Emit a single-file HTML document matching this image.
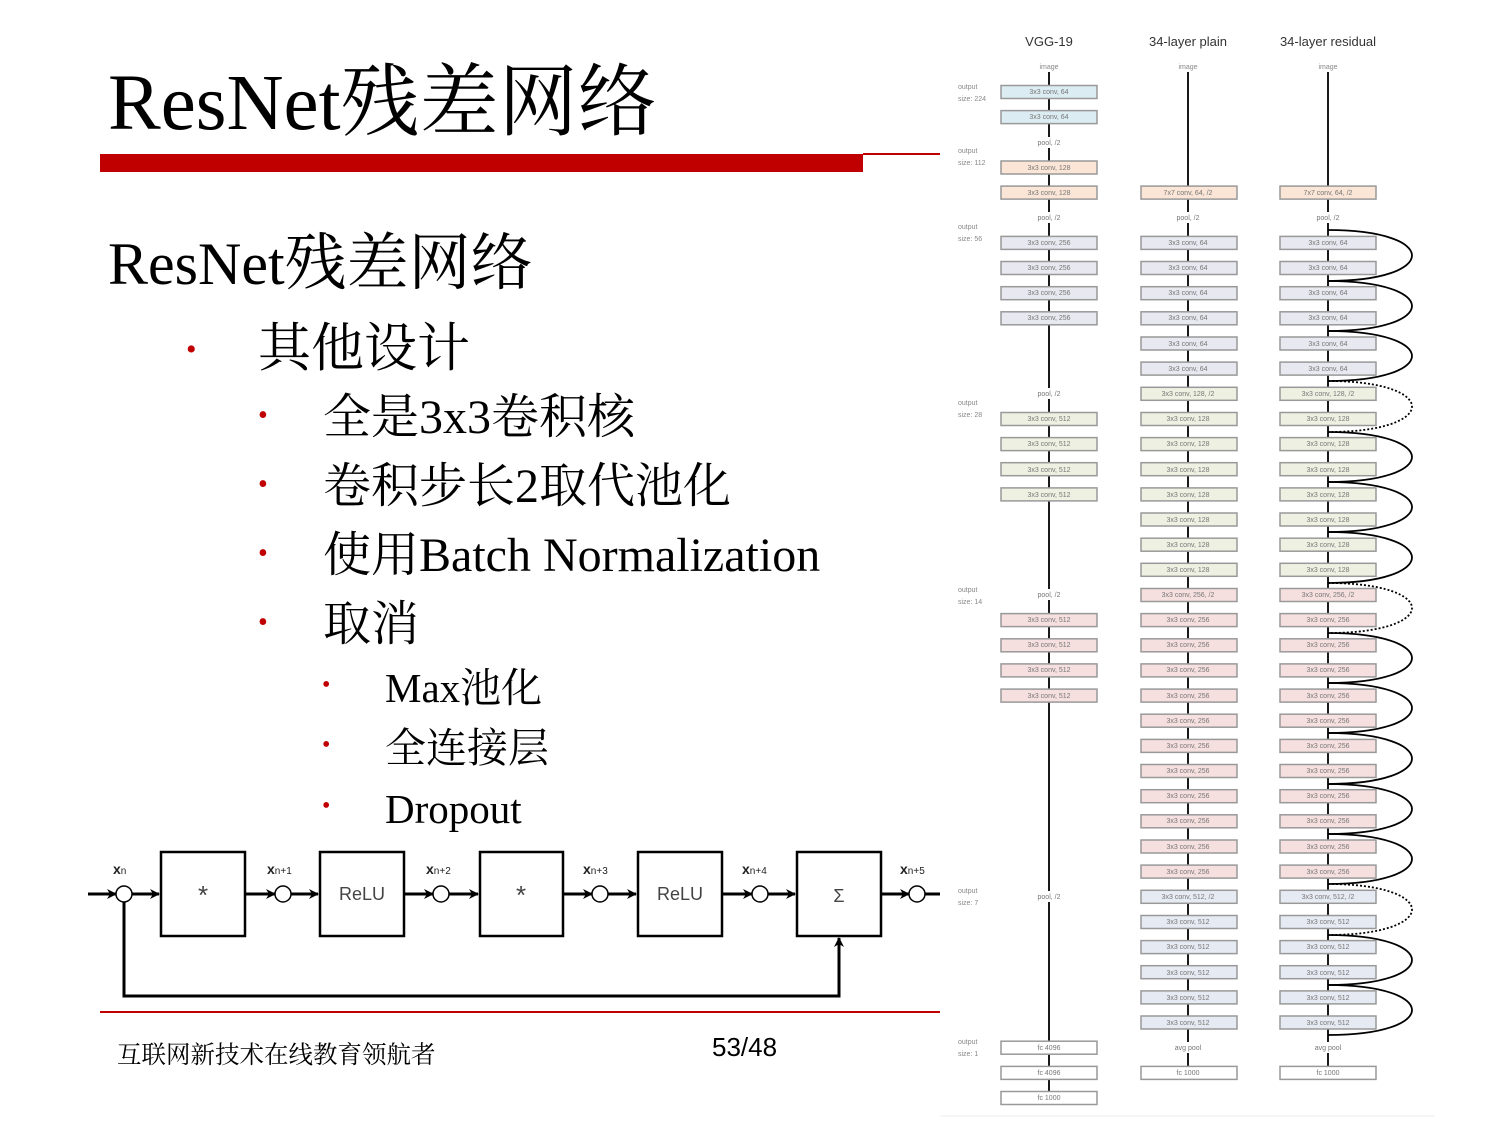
<!DOCTYPE html>
<html><head><meta charset="utf-8"><style>
body{margin:0;width:1500px;height:1125px;background:#fff;overflow:hidden;position:relative;font-family:"Liberation Serif","Noto Serif CJK SC",serif}
.t{position:absolute;white-space:nowrap;color:#000}
.d{position:absolute;color:#c00000}
</style></head><body>
<div class="t" style="left:108px;top:58px;font-size:79px;line-height:92px">ResNet残差网络</div>
<div style="position:absolute;left:100px;top:154px;width:763px;height:18px;background:#c00000"></div>
<div style="position:absolute;left:863px;top:153px;width:77px;height:2px;background:#c00000"></div>
<div class="t" style="left:108px;top:229px;font-size:60px;line-height:70px">ResNet<span style="font-size:62px">残差网络</span></div>
<div class="d" style="left:186px;top:330px;font-size:30px;line-height:40px">•</div>
<div class="t" style="left:258px;top:318px;font-size:53px;line-height:62px">其他设计</div>
<div class="d" style="left:258px;top:400px;font-size:28px">•</div>
<div class="t" style="left:323px;top:388px;font-size:48px;line-height:60px">全是3x3卷积核</div>
<div class="d" style="left:258px;top:469px;font-size:28px">•</div>
<div class="t" style="left:323px;top:457px;font-size:48px;line-height:60px">卷积步长2取代池化</div>
<div class="d" style="left:258px;top:538px;font-size:28px">•</div>
<div class="t" style="left:323px;top:526px;font-size:48px;line-height:60px">使用Batch Normalization</div>
<div class="d" style="left:258px;top:607px;font-size:28px">•</div>
<div class="t" style="left:323px;top:595px;font-size:48px;line-height:60px">取消</div>
<div class="d" style="left:322px;top:672px;font-size:24px">•</div>
<div class="t" style="left:385px;top:663px;font-size:41px;line-height:50px">Max池化</div>
<div class="d" style="left:322px;top:732px;font-size:24px">•</div>
<div class="t" style="left:385px;top:723px;font-size:41px;line-height:50px">全连接层</div>
<div class="d" style="left:322px;top:793px;font-size:24px">•</div>
<div class="t" style="left:385px;top:784px;font-size:41px;line-height:50px">Dropout</div>
<div style="position:absolute;left:100px;top:1011px;width:840px;height:2px;background:#c00000"></div>
<div class="t" style="left:117px;top:1040px;font-size:24.5px;line-height:32px">互联网新技术在线教育领航者</div>
<div class="t" style="left:712px;top:1032px;font-size:26px;line-height:30px;font-family:'Liberation Sans',sans-serif">53/48</div>

<svg width="1500" height="1125" style="position:absolute;left:0;top:0" font-family="Liberation Sans, sans-serif">
<defs>
<marker id="a" markerWidth="10" markerHeight="10" refX="9" refY="5" orient="auto" markerUnits="userSpaceOnUse"><path d="M0,0 L10,5 L0,10 L3,5z" fill="#000"/></marker>
</defs>
<g stroke="#000" stroke-width="3" fill="none">
<line x1="88" y1="894" x2="116" y2="894" marker-end="url(#a)"/>
<line x1="132" y1="894" x2="159" y2="894" marker-end="url(#a)"/>
<line x1="245" y1="894" x2="275" y2="894" marker-end="url(#a)"/>
<line x1="291" y1="894" x2="318" y2="894" marker-end="url(#a)"/>
<line x1="404" y1="894" x2="433" y2="894" marker-end="url(#a)"/>
<line x1="449" y1="894" x2="478" y2="894" marker-end="url(#a)"/>
<line x1="563" y1="894" x2="592" y2="894" marker-end="url(#a)"/>
<line x1="608" y1="894" x2="636" y2="894" marker-end="url(#a)"/>
<line x1="722" y1="894" x2="752" y2="894" marker-end="url(#a)"/>
<line x1="768" y1="894" x2="795" y2="894" marker-end="url(#a)"/>
<line x1="881" y1="894" x2="909" y2="894" marker-end="url(#a)"/>
<line x1="925" y1="894" x2="940" y2="894"/>
<polyline points="124,902 124,996 839,996 839,938" marker-end="url(#a)"/>
<g stroke-width="2.5"><rect x="161" y="852" width="84" height="84"/><rect x="320" y="852" width="84" height="84"/><rect x="480" y="852" width="83" height="84"/><rect x="638" y="852" width="84" height="84"/><rect x="797" y="852" width="84" height="84"/></g>
<g stroke-width="1.5" fill="#fff"><circle cx="124" cy="894" r="8"/><circle cx="283" cy="894" r="8"/><circle cx="441" cy="894" r="8"/><circle cx="600" cy="894" r="8"/><circle cx="760" cy="894" r="8"/><circle cx="917" cy="894" r="8"/></g>
</g>
<g font-size="18" text-anchor="middle" fill="#444"><text x="203" y="904" font-size="26">*</text><text x="362" y="900">ReLU</text><text x="521" y="904" font-size="26">*</text><text x="680" y="900">ReLU</text><text x="839" y="902">Σ</text></g>
<g font-size="14" font-weight="bold" fill="#222"><text x="113" y="874">x<tspan font-size="10" font-weight="normal">n</tspan></text><text x="267" y="874">x<tspan font-size="10" font-weight="normal">n+1</tspan></text><text x="426" y="874">x<tspan font-size="10" font-weight="normal">n+2</tspan></text><text x="583" y="874">x<tspan font-size="10" font-weight="normal">n+3</tspan></text><text x="742" y="874">x<tspan font-size="10" font-weight="normal">n+4</tspan></text><text x="900" y="874">x<tspan font-size="10" font-weight="normal">n+5</tspan></text></g>

<line x1="940" y1="1116" x2="1435" y2="1116" stroke="#eee"/>
<g font-size="13" fill="#333" text-anchor="middle"><text x="1049" y="46">VGG-19</text><text x="1188" y="46">34-layer plain</text><text x="1328" y="46">34-layer residual</text></g>
<g font-size="7" fill="#888" text-anchor="middle"><text x="1049" y="69">image</text><text x="1188" y="69">image</text><text x="1328" y="69">image</text></g>
<g font-size="7" fill="#888"><text x="958" y="89">output</text><text x="958" y="101">size: 224</text><text x="958" y="153">output</text><text x="958" y="165">size: 112</text><text x="958" y="229">output</text><text x="958" y="241">size: 56</text><text x="958" y="405">output</text><text x="958" y="417">size: 28</text><text x="958" y="592">output</text><text x="958" y="604">size: 14</text><text x="958" y="893">output</text><text x="958" y="905">size: 7</text><text x="958" y="1044">output</text><text x="958" y="1056">size: 1</text></g>
<g stroke="#000" stroke-width="1.8"><line x1="1049" y1="72" x2="1049" y2="1092"/><line x1="1188" y1="72" x2="1188" y2="1067"/><line x1="1328" y1="72" x2="1328" y2="1067"/></g>
<g stroke="#999" stroke-width="1.5">
<g fill="#dbecf3"><rect x="1001" y="85.5" width="96" height="13"/><rect x="1001" y="110.6" width="96" height="13"/></g>
<g fill="#fbe5d6"><rect x="1001" y="161" width="96" height="13"/><rect x="1001" y="186.1" width="96" height="13"/><rect x="1141" y="186.1" width="96" height="13"/><rect x="1280" y="186.1" width="96" height="13"/></g>
<g fill="#e8e8f0"><rect x="1001" y="236.4" width="96" height="13"/><rect x="1001" y="261.5" width="96" height="13"/><rect x="1001" y="286.7" width="96" height="13"/><rect x="1001" y="311.8" width="96" height="13"/>
<rect x="1141" y="236.4" width="96" height="13"/><rect x="1141" y="261.5" width="96" height="13"/><rect x="1141" y="286.7" width="96" height="13"/><rect x="1141" y="311.8" width="96" height="13"/><rect x="1141" y="337" width="96" height="13"/><rect x="1141" y="362.1" width="96" height="13"/>
<rect x="1280" y="236.4" width="96" height="13"/><rect x="1280" y="261.5" width="96" height="13"/><rect x="1280" y="286.7" width="96" height="13"/><rect x="1280" y="311.8" width="96" height="13"/><rect x="1280" y="337" width="96" height="13"/><rect x="1280" y="362.1" width="96" height="13"/></g>
<g fill="#eef0e2"><rect x="1001" y="412.5" width="96" height="13"/><rect x="1001" y="437.6" width="96" height="13"/><rect x="1001" y="462.7" width="96" height="13"/><rect x="1001" y="487.9" width="96" height="13"/>
<rect x="1141" y="387.3" width="96" height="13"/><rect x="1141" y="412.5" width="96" height="13"/><rect x="1141" y="437.6" width="96" height="13"/><rect x="1141" y="462.7" width="96" height="13"/><rect x="1141" y="487.9" width="96" height="13"/><rect x="1141" y="513" width="96" height="13"/><rect x="1141" y="538.2" width="96" height="13"/><rect x="1141" y="563.3" width="96" height="13"/>
<rect x="1280" y="387.3" width="96" height="13"/><rect x="1280" y="412.5" width="96" height="13"/><rect x="1280" y="437.6" width="96" height="13"/><rect x="1280" y="462.7" width="96" height="13"/><rect x="1280" y="487.9" width="96" height="13"/><rect x="1280" y="513" width="96" height="13"/><rect x="1280" y="538.2" width="96" height="13"/><rect x="1280" y="563.3" width="96" height="13"/></g>
<g fill="#f6dfdf"><rect x="1001" y="613.6" width="96" height="13"/><rect x="1001" y="638.8" width="96" height="13"/><rect x="1001" y="663.9" width="96" height="13"/><rect x="1001" y="689.1" width="96" height="13"/>
<rect x="1141" y="588.5" width="96" height="13"/><rect x="1141" y="613.6" width="96" height="13"/><rect x="1141" y="638.8" width="96" height="13"/><rect x="1141" y="663.9" width="96" height="13"/><rect x="1141" y="689.1" width="96" height="13"/><rect x="1141" y="714.2" width="96" height="13"/><rect x="1141" y="739.4" width="96" height="13"/><rect x="1141" y="764.5" width="96" height="13"/><rect x="1141" y="789.7" width="96" height="13"/><rect x="1141" y="814.8" width="96" height="13"/><rect x="1141" y="840" width="96" height="13"/><rect x="1141" y="865.1" width="96" height="13"/>
<rect x="1280" y="588.5" width="96" height="13"/><rect x="1280" y="613.6" width="96" height="13"/><rect x="1280" y="638.8" width="96" height="13"/><rect x="1280" y="663.9" width="96" height="13"/><rect x="1280" y="689.1" width="96" height="13"/><rect x="1280" y="714.2" width="96" height="13"/><rect x="1280" y="739.4" width="96" height="13"/><rect x="1280" y="764.5" width="96" height="13"/><rect x="1280" y="789.7" width="96" height="13"/><rect x="1280" y="814.8" width="96" height="13"/><rect x="1280" y="840" width="96" height="13"/><rect x="1280" y="865.1" width="96" height="13"/></g>
<g fill="#e6eaf2"><rect x="1141" y="890.3" width="96" height="13"/><rect x="1141" y="915.5" width="96" height="13"/><rect x="1141" y="940.6" width="96" height="13"/><rect x="1141" y="965.7" width="96" height="13"/><rect x="1141" y="990.9" width="96" height="13"/><rect x="1141" y="1016" width="96" height="13"/>
<rect x="1280" y="890.3" width="96" height="13"/><rect x="1280" y="915.5" width="96" height="13"/><rect x="1280" y="940.6" width="96" height="13"/><rect x="1280" y="965.7" width="96" height="13"/><rect x="1280" y="990.9" width="96" height="13"/><rect x="1280" y="1016" width="96" height="13"/></g>
<g fill="#fff"><rect x="1001" y="1041.2" width="96" height="13"/><rect x="1001" y="1066.4" width="96" height="13"/><rect x="1001" y="1091.5" width="96" height="13"/><rect x="1141" y="1066.4" width="96" height="13"/><rect x="1280" y="1066.4" width="96" height="13"/></g>
</g>
<g fill="#fff"><rect x="1030" y="137" width="38" height="11"/><rect x="1030" y="212" width="38" height="11"/><rect x="1030" y="388" width="38" height="11"/><rect x="1030" y="589" width="38" height="11"/><rect x="1030" y="891" width="38" height="11"/><rect x="1169" y="212" width="38" height="11"/><rect x="1308" y="212" width="38" height="11"/><rect x="1166" y="1042" width="44" height="11"/><rect x="1306" y="1042" width="44" height="11"/></g>
<g font-size="7" fill="#777" text-anchor="middle">
<text x="1049" y="145">pool, /2</text><text x="1049" y="220">pool, /2</text><text x="1049" y="396">pool, /2</text><text x="1049" y="597">pool, /2</text><text x="1049" y="899">pool, /2</text>
<text x="1188" y="220">pool, /2</text><text x="1328" y="220">pool, /2</text><text x="1188" y="1050">avg pool</text><text x="1328" y="1050">avg pool</text>
<text x="1049" y="94">3x3 conv, 64</text><text x="1049" y="119">3x3 conv, 64</text><text x="1049" y="170">3x3 conv, 128</text><text x="1049" y="195">3x3 conv, 128</text>
<text x="1049" y="245">3x3 conv, 256</text><text x="1049" y="270">3x3 conv, 256</text><text x="1049" y="295">3x3 conv, 256</text><text x="1049" y="320">3x3 conv, 256</text>
<text x="1049" y="421">3x3 conv, 512</text><text x="1049" y="446">3x3 conv, 512</text><text x="1049" y="472">3x3 conv, 512</text><text x="1049" y="497">3x3 conv, 512</text>
<text x="1049" y="622">3x3 conv, 512</text><text x="1049" y="647">3x3 conv, 512</text><text x="1049" y="672">3x3 conv, 512</text><text x="1049" y="698">3x3 conv, 512</text>
<text x="1049" y="1050">fc 4096</text><text x="1049" y="1075">fc 4096</text><text x="1049" y="1100">fc 1000</text>
<text x="1188" y="195">7x7 conv, 64, /2</text><text x="1328" y="195">7x7 conv, 64, /2</text>
<text x="1188" y="245">3x3 conv, 64</text><text x="1188" y="270">3x3 conv, 64</text><text x="1188" y="295">3x3 conv, 64</text><text x="1188" y="320">3x3 conv, 64</text><text x="1188" y="346">3x3 conv, 64</text><text x="1188" y="371">3x3 conv, 64</text>
<text x="1328" y="245">3x3 conv, 64</text><text x="1328" y="270">3x3 conv, 64</text><text x="1328" y="295">3x3 conv, 64</text><text x="1328" y="320">3x3 conv, 64</text><text x="1328" y="346">3x3 conv, 64</text><text x="1328" y="371">3x3 conv, 64</text>
<text x="1188" y="396">3x3 conv, 128, /2</text><text x="1188" y="421">3x3 conv, 128</text><text x="1188" y="446">3x3 conv, 128</text><text x="1188" y="472">3x3 conv, 128</text><text x="1188" y="497">3x3 conv, 128</text><text x="1188" y="522">3x3 conv, 128</text><text x="1188" y="547">3x3 conv, 128</text><text x="1188" y="572">3x3 conv, 128</text>
<text x="1328" y="396">3x3 conv, 128, /2</text><text x="1328" y="421">3x3 conv, 128</text><text x="1328" y="446">3x3 conv, 128</text><text x="1328" y="472">3x3 conv, 128</text><text x="1328" y="497">3x3 conv, 128</text><text x="1328" y="522">3x3 conv, 128</text><text x="1328" y="547">3x3 conv, 128</text><text x="1328" y="572">3x3 conv, 128</text>
<text x="1188" y="597">3x3 conv, 256, /2</text><text x="1188" y="622">3x3 conv, 256</text><text x="1188" y="647">3x3 conv, 256</text><text x="1188" y="672">3x3 conv, 256</text><text x="1188" y="698">3x3 conv, 256</text><text x="1188" y="723">3x3 conv, 256</text><text x="1188" y="748">3x3 conv, 256</text><text x="1188" y="773">3x3 conv, 256</text><text x="1188" y="798">3x3 conv, 256</text><text x="1188" y="823">3x3 conv, 256</text><text x="1188" y="849">3x3 conv, 256</text><text x="1188" y="874">3x3 conv, 256</text>
<text x="1328" y="597">3x3 conv, 256, /2</text><text x="1328" y="622">3x3 conv, 256</text><text x="1328" y="647">3x3 conv, 256</text><text x="1328" y="672">3x3 conv, 256</text><text x="1328" y="698">3x3 conv, 256</text><text x="1328" y="723">3x3 conv, 256</text><text x="1328" y="748">3x3 conv, 256</text><text x="1328" y="773">3x3 conv, 256</text><text x="1328" y="798">3x3 conv, 256</text><text x="1328" y="823">3x3 conv, 256</text><text x="1328" y="849">3x3 conv, 256</text><text x="1328" y="874">3x3 conv, 256</text>
<text x="1188" y="899">3x3 conv, 512, /2</text><text x="1188" y="924">3x3 conv, 512</text><text x="1188" y="949">3x3 conv, 512</text><text x="1188" y="975">3x3 conv, 512</text><text x="1188" y="1000">3x3 conv, 512</text><text x="1188" y="1025">3x3 conv, 512</text>
<text x="1328" y="899">3x3 conv, 512, /2</text><text x="1328" y="924">3x3 conv, 512</text><text x="1328" y="949">3x3 conv, 512</text><text x="1328" y="975">3x3 conv, 512</text><text x="1328" y="1000">3x3 conv, 512</text><text x="1328" y="1025">3x3 conv, 512</text>
<text x="1188" y="1075">fc 1000</text><text x="1328" y="1075">fc 1000</text>
</g>
<g fill="none" stroke="#000" stroke-width="1.8">
<path d="M1328 230 C1440 230 1440 281 1328 281"/><path d="M1328 281 C1440 281 1440 331 1328 331"/><path d="M1328 331 C1440 331 1440 381 1328 381"/>
<path d="M1328 432 C1440 432 1440 482 1328 482"/><path d="M1328 482 C1440 482 1440 532 1328 532"/><path d="M1328 532 C1440 532 1440 583 1328 583"/>
<path d="M1328 633 C1440 633 1440 683 1328 683"/><path d="M1328 683 C1440 683 1440 733 1328 733"/><path d="M1328 733 C1440 733 1440 784 1328 784"/><path d="M1328 784 C1440 784 1440 834 1328 834"/><path d="M1328 834 C1440 834 1440 884 1328 884"/>
<path d="M1328 935 C1440 935 1440 985 1328 985"/><path d="M1328 985 C1440 985 1440 1035 1328 1035"/>
<g stroke-dasharray="2,2"><path d="M1328 381 C1440 381 1440 432 1328 432"/><path d="M1328 583 C1440 583 1440 633 1328 633"/><path d="M1328 884 C1440 884 1440 935 1328 935"/></g>
</g>
</svg>
</body></html>
